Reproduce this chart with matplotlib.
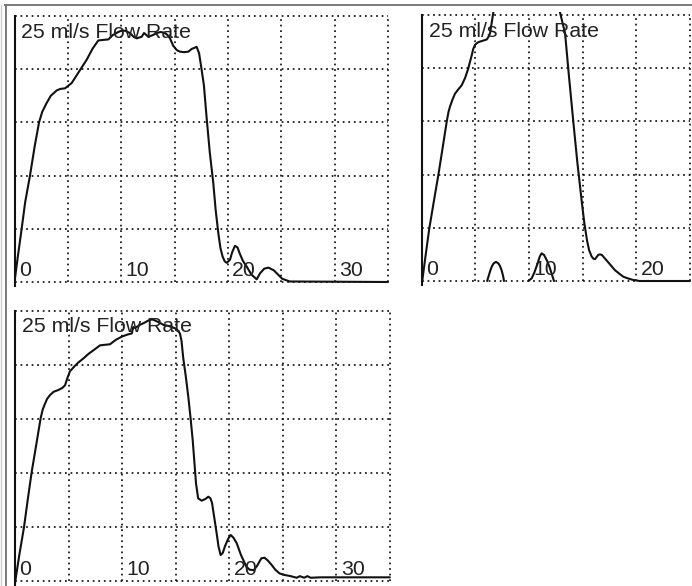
#!/usr/bin/env python3
"""Three flow-rate trace panels on a dotted square grid, redrawn from a scanned chart."""

import matplotlib

matplotlib.use("Agg")
import matplotlib.pyplot as plt
from matplotlib.lines import Line2D

TITLE = "25 ml/s Flow Rate"
Y_GRID = [0, 5, 10, 15, 20, 25]

# top-left trace
TL_X = [0, 0.3, 0.67, 1.0, 1.45, 1.9, 2.3, 2.6, 3.0, 3.4, 3.95, 4.3, 4.73, 5.36, 6.0,
        6.77, 7.3, 7.85, 8.3, 8.8, 9.2, 9.73, 10.1, 10.4, 10.82, 11.15, 11.45, 11.92,
        12.14, 12.55, 12.95, 13.33, 13.7, 14.1, 14.35, 14.57, 14.88, 15.2, 15.5, 15.9,
        16.3, 16.6, 17.07, 17.3, 17.5, 17.75, 18.0, 18.3, 18.63, 18.85, 19.1, 19.3, 19.5,
        19.7, 19.9, 20.2, 20.4, 20.66, 20.9, 21.1, 21.4, 21.76, 22.2, 22.7, 23.0, 23.4,
        23.8, 24.3, 24.6, 25.1, 25.8, 35.0]
TL_Y = [0, 2.3, 5.0, 7.5, 10.0, 12.8, 15.0, 16.0, 16.8, 17.5, 18.0, 18.15, 18.2, 18.7,
        19.7, 20.9, 21.9, 22.7, 22.75, 22.8, 23.2, 23.5, 23.65, 23.6, 23.4, 23.05, 22.9,
        23.05, 23.4, 23.05, 23.2, 23.4, 23.5, 23.4, 23.2, 22.9, 22.2, 21.8, 21.65, 21.6,
        21.65, 21.9, 22.1, 21.5, 20.2, 18.5, 15.5, 12.2, 9.3, 6.8, 4.6, 3.2, 2.4,
        1.95, 1.8, 2.1, 2.8, 3.4, 3.25, 2.7, 2.0, 1.45, 0.7, 0.25, 0.8, 1.25,
        1.35, 1.1, 0.8, 0.3, 0.05, 0]
TL_TICKS = [0, 10, 20, 30]

# top-right trace (runs off the top between ~7 and ~13)
TR_X = [0, 0.35, 0.71, 1.1, 1.55, 1.95, 2.33, 2.5, 2.64, 2.85, 3.1, 3.4, 3.73, 4.05, 4.35,
        4.5, 4.66, 4.8, 4.97, 5.2, 5.43, 5.75, 6.06, 6.2, 6.37, 6.67, 7.0, 9.5, 12.6, 12.9,
        13.36, 13.7, 14.13, 14.5, 14.9, 15.15, 15.4, 15.6, 15.84, 16.0, 16.15, 16.3, 16.45,
        16.6, 16.8, 17.0, 17.2, 17.6, 18.0, 18.4, 18.8, 19.2, 19.7, 20.3, 25.0]
TR_Y = [-0.38, 2.3, 4.95, 7.3, 9.96, 12.5, 14.97, 15.9, 16.4, 17.0, 17.6, 18.0, 18.4,
        19.1, 20.0, 20.6, 21.2, 21.8, 22.2, 22.4, 22.5, 22.6, 22.7, 22.9, 23.3, 25.2,
        27.0, 29.0, 26.5, 25.2, 23.3, 19.5, 14.97, 11.2, 7.6, 5.5, 3.85, 2.9, 2.3, 2.1,
        2.05, 2.25, 2.45, 2.5, 2.45, 2.2, 1.97, 1.5, 1.03, 0.7, 0.4, 0.25, 0.1, 0, 0]
TR_BUMP1_X = [6.1, 6.25, 6.4, 6.55, 6.7, 6.92, 7.15, 7.3, 7.45, 7.58, 7.67]
TR_BUMP1_Y = [0, 0.5, 1.0, 1.4, 1.65, 1.8, 1.65, 1.4, 1.0, 0.5, 0]
TR_BUMP2_X = [9.93, 10.25, 10.5, 10.8, 11.0, 11.18, 11.4, 11.65, 11.9, 12.1, 12.33]
TR_BUMP2_Y = [0, 0.25, 0.8, 1.65, 2.3, 2.6, 2.45, 1.97, 1.35, 0.72, 0]
TR_TICKS = [0, 10, 20]

# bottom-left trace
BL_X = [0, 0.4, 0.84, 1.2, 1.56, 2.0, 2.4, 2.6, 2.8, 3.0, 3.27, 3.6, 4.05, 4.4, 4.67,
        4.9, 5.13, 5.5, 5.9, 6.4, 6.85, 7.4, 7.94, 8.4, 8.87, 9.4, 9.96, 10.5, 10.9,
        11.05, 11.2, 11.67, 12.1, 12.45, 12.8, 13.07, 13.5, 13.85, 14.3, 14.63, 15.1,
        15.4, 15.55, 15.7, 15.95, 16.18, 16.4, 16.59, 16.75, 16.9, 17.1, 17.43, 17.8,
        18.05, 18.25, 18.4, 18.6, 18.83, 19.0, 19.2, 19.4, 19.6, 19.9, 20.14, 20.4,
        20.7, 21.1, 21.6, 21.9, 22.3, 22.6, 23.0, 23.3, 23.6, 23.97, 24.3, 24.7, 25.2,
        25.7, 26.3, 26.6, 27.0, 27.3, 27.6, 28.5, 35.0]
BL_Y = [-0.2, 2.4, 4.97, 7.6, 10.1, 12.7, 15.1, 15.9, 16.4, 16.85, 17.2, 17.5, 17.67,
        17.85, 18.1, 18.8, 19.4, 19.8, 20.2, 20.6, 21.0, 21.4, 21.8, 21.85, 21.9, 22.3,
        22.6, 22.8, 22.9, 23.5, 23.4, 23.7, 23.9, 24.1, 24.2, 24.1, 23.9, 23.7, 23.6,
        23.5, 23.3, 22.9, 22.2, 20.7, 18.9, 17.05, 15.0, 13.05, 11.0, 9.04, 7.65, 7.43,
        7.6, 7.8, 7.65, 7.2, 5.9, 4.4, 3.2, 2.4, 2.6, 3.2, 3.9, 4.26, 4.0, 3.5, 2.4,
        1.33, 1.05, 1.0, 1.4, 2.1, 2.15, 1.9, 1.48, 1.05, 0.7, 0.55, 0.46, 0.3, 0.45,
        0.3, 0.45, 0.3, 0.34, 0.34]
BL_TICKS = [0, 10, 20, 30]

W, H = 692, 586
DOTS = (0, (1, 2.2))
INK = "#111111"
FONT = "Liberation Sans"


def px_axes(x0, x_per_unit, xmax, y0, y_per_unit):
    """Axes rect from pixel position of the data origin and pixel scales."""
    ylo, yhi = -0.4, 25.3
    left = x0 / W
    width = xmax * x_per_unit / W
    bottom = (H - (y0 - ylo * y_per_unit)) / H
    height = (yhi - ylo) * y_per_unit / H
    return [left, bottom, width, height], (ylo, yhi)


def draw_panel(fig, rect, ylim, xmax, xgrid_max, traces, ticks):
    ax = fig.add_axes(rect)
    ax.set_xlim(0, xmax)
    ax.set_ylim(*ylim)

    grid_kw = dict(color=INK, linewidth=1.25, linestyle=DOTS, clip_on=False, zorder=1)
    for xg in range(5, xgrid_max + 1, 5):
        ax.plot([xg, xg], [0, 25], **grid_kw)
    for yg in Y_GRID:
        ax.plot([0, xgrid_max], [yg, yg], **grid_kw)

    for xs, ys in traces:
        ax.plot(xs, ys, color=INK, linewidth=1.5, solid_joinstyle="round",
                solid_capstyle="round", zorder=3)

    for t in ticks:
        ax.annotate(str(t), (t, 0), xytext=(3.2, 4.2), textcoords="offset points",
                    ha="left", va="baseline", fontsize=15.3, family=FONT, color="#222222",
                    zorder=4)
    ax.annotate(TITLE, (0, 25), xytext=(5.0, -15.5), textcoords="offset points",
                ha="left", va="baseline", fontsize=15.3, family=FONT, color="#222222",
                zorder=4)

    for side in ("top", "right", "bottom"):
        ax.spines[side].set_visible(False)
    ax.spines["left"].set_bounds(-0.35, 25.0)
    ax.spines["left"].set_linewidth(1.5)
    ax.spines["left"].set_color(INK)
    ax.set_xticks([])
    ax.set_yticks([])
    ax.patch.set_alpha(0)
    return ax


def main() -> None:
    fig = plt.figure(figsize=(W / 100, H / 100), dpi=100)
    fig.patch.set_facecolor("white")

    rect, ylim = px_axes(14.5, 10.67, 35.2, 282, 10.64)
    draw_panel(fig, rect, ylim, 35.2, 35, [(TL_X, TL_Y)], TL_TICKS)

    rect, ylim = px_axes(421.7, 10.73, 25.15, 281, 10.64)
    draw_panel(fig, rect, ylim, 25.15, 25,
               [(TR_X, TR_Y), (TR_BUMP1_X, TR_BUMP1_Y), (TR_BUMP2_X, TR_BUMP2_Y)], TR_TICKS)

    rect, ylim = px_axes(15, 10.71, 35.2, 581, 10.81)
    draw_panel(fig, rect, ylim, 35.2, 35, [(BL_X, BL_Y)], BL_TICKS)

    # scanned page border
    fig.add_artist(Line2D([5 / W, 1], [1 - 5 / H, 1 - 5 / H], transform=fig.transFigure,
                          color="#7a7a7a", linewidth=1.4))
    fig.add_artist(Line2D([5.5 / W, 5.5 / W], [0, 1 - 5 / H], transform=fig.transFigure,
                          color="#7a7a7a", linewidth=1.4))
    fig.add_artist(Line2D([1.5 / W, 1.5 / W], [0, 1 - 5 / H], transform=fig.transFigure,
                          color="#cfcfcf", linewidth=1.0))

    fig.savefig("out.png", dpi=100)
    plt.close(fig)


if __name__ == "__main__":
    main()
